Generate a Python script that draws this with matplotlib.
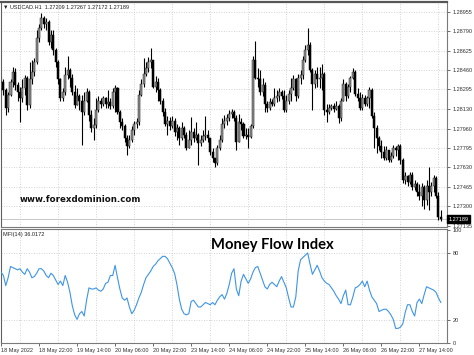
import matplotlib
matplotlib.use("Agg")
import matplotlib.pyplot as plt
import matplotlib.transforms as mtransforms
import numpy as np

# USDCAD H1, 18 May 2022 06:00 .. 27 May 2022 23:00 (one value per hourly bar)
header = "USDCAD.H1  1.27209 1.27267 1.27172 1.27189"
first_open = 1.2830
closes = [
    1.2836, 1.2829, 1.2814, 1.2825, 1.2836, 1.2844, 1.2833, 1.2827, 1.2822, 1.2831,
    1.2839, 1.2816, 1.2838, 1.2844, 1.2853, 1.2873, 1.2882, 1.2890, 1.2885, 1.2887,
    1.2870, 1.2876, 1.2863, 1.2853, 1.2838, 1.2822, 1.2827, 1.2842, 1.2846, 1.2839,
    1.2827, 1.2816, 1.2824, 1.2820, 1.2810, 1.2820, 1.2827, 1.2808, 1.2797, 1.2799,
    1.2812, 1.2820, 1.2817, 1.2822, 1.2817, 1.2819, 1.2815, 1.2827, 1.2831, 1.2810,
    1.2802, 1.2798, 1.2788, 1.2781, 1.2786, 1.2795, 1.2800, 1.2802, 1.2825, 1.2834,
    1.2843, 1.2848, 1.2853, 1.2855, 1.2832, 1.2836, 1.2829, 1.2820, 1.2810, 1.2800,
    1.2803, 1.2798, 1.2803, 1.2793, 1.2797, 1.2788, 1.2797, 1.2791, 1.2780, 1.2786,
    1.2793, 1.2788, 1.2791, 1.2784, 1.2786, 1.2790, 1.2791, 1.2788, 1.2776, 1.2771,
    1.2767, 1.2780, 1.2786, 1.2800, 1.2803, 1.2805, 1.2809, 1.2810, 1.2805, 1.2785,
    1.2802, 1.2800, 1.2790, 1.2791, 1.2789, 1.2798, 1.2855, 1.2839, 1.2838, 1.2827,
    1.2833, 1.2817, 1.2814, 1.2819, 1.2817, 1.2822, 1.2824, 1.2827, 1.2824, 1.2812,
    1.2820, 1.2826, 1.2831, 1.2838, 1.2824, 1.2839, 1.2842, 1.2855, 1.2863, 1.2867,
    1.2846, 1.2834, 1.2843, 1.2838, 1.2839, 1.2843, 1.2812, 1.2810, 1.2814, 1.2815,
    1.2813, 1.2815, 1.2805, 1.2820, 1.2834, 1.2824, 1.2832, 1.2839, 1.2844, 1.2826,
    1.2822, 1.2814, 1.2822, 1.2817, 1.2822, 1.2829, 1.2807, 1.2797, 1.2788, 1.2781,
    1.2776, 1.2771, 1.2778, 1.2769, 1.2773, 1.2780, 1.2778, 1.2781, 1.2769, 1.2752,
    1.2756, 1.2751, 1.2757, 1.2746, 1.2749, 1.2742, 1.2739, 1.2746, 1.2735, 1.2747,
    1.2742, 1.2747, 1.2754, 1.2739, 1.27209, 1.27189,
]
highs = [
    1.2840, 1.2838, 1.2831, 1.2827, 1.2838, 1.2849, 1.2848, 1.2836, 1.2832, 1.2838,
    1.2842, 1.2841, 1.2853, 1.2855, 1.2856, 1.2880, 1.2885, 1.2895, 1.2892, 1.2890,
    1.2889, 1.2880, 1.2880, 1.2865, 1.2855, 1.2839, 1.2831, 1.2849, 1.2858, 1.2848,
    1.2843, 1.2833, 1.2831, 1.2826, 1.2825, 1.2827, 1.2831, 1.2829, 1.2812, 1.2805,
    1.2822, 1.2824, 1.2822, 1.2824, 1.2823, 1.2829, 1.2822, 1.2831, 1.2833, 1.2832,
    1.2812, 1.2805, 1.2800, 1.2791, 1.2791, 1.2798, 1.2803, 1.2805, 1.2829, 1.2838,
    1.2856, 1.2853, 1.2857, 1.2865, 1.2853, 1.2841, 1.2839, 1.2831, 1.2822, 1.2814,
    1.2807, 1.2806, 1.2807, 1.2805, 1.2800, 1.2798, 1.2802, 1.2798, 1.2793, 1.2795,
    1.2806, 1.2797, 1.2802, 1.2792, 1.2791, 1.2795, 1.2807, 1.2795, 1.2788, 1.2780,
    1.2771, 1.2782, 1.2791, 1.2805, 1.2808, 1.2809, 1.2812, 1.2813, 1.2812, 1.2808,
    1.2809, 1.2805, 1.2802, 1.2797, 1.2797, 1.2800, 1.2858, 1.2871, 1.2848, 1.2846,
    1.2839, 1.2836, 1.2820, 1.2822, 1.2821, 1.2831, 1.2829, 1.2831, 1.2829, 1.2829,
    1.2825, 1.2829, 1.2839, 1.2842, 1.2839, 1.2843, 1.2846, 1.2858, 1.2867, 1.2882,
    1.2870, 1.2848, 1.2846, 1.2849, 1.2849, 1.2851, 1.2844, 1.2817, 1.2817, 1.2817,
    1.2818, 1.2820, 1.2817, 1.2822, 1.2838, 1.2836, 1.2834, 1.2841, 1.2848, 1.2846,
    1.2831, 1.2827, 1.2826, 1.2825, 1.2824, 1.2832, 1.2831, 1.2810, 1.2799, 1.2790,
    1.2786, 1.2781, 1.2781, 1.2778, 1.2776, 1.2782, 1.2781, 1.2783, 1.2783, 1.2771,
    1.2759, 1.2757, 1.2759, 1.2759, 1.2752, 1.2751, 1.2749, 1.2750, 1.2748, 1.2752,
    1.2763, 1.2751, 1.2757, 1.2756, 1.2742, 1.27267,
]
lows = [
    1.2827, 1.2825, 1.2808, 1.2810, 1.2824, 1.2832, 1.2829, 1.2820, 1.2802, 1.2819,
    1.2825, 1.2812, 1.2814, 1.2834, 1.2841, 1.2851, 1.2870, 1.2880, 1.2882, 1.2880,
    1.2867, 1.2865, 1.2859, 1.2849, 1.2834, 1.2820, 1.2820, 1.2825, 1.2838, 1.2832,
    1.2825, 1.2814, 1.2816, 1.2812, 1.2782, 1.2808, 1.2819, 1.2803, 1.2793, 1.2786,
    1.2797, 1.2810, 1.2814, 1.2815, 1.2814, 1.2814, 1.2813, 1.2814, 1.2810, 1.2809,
    1.2797, 1.2795, 1.2785, 1.2774, 1.2780, 1.2785, 1.2791, 1.2797, 1.2799, 1.2824,
    1.2832, 1.2841, 1.2844, 1.2848, 1.2831, 1.2827, 1.2820, 1.2817, 1.2807, 1.2798,
    1.2791, 1.2795, 1.2797, 1.2790, 1.2786, 1.2782, 1.2786, 1.2788, 1.2778, 1.2780,
    1.2782, 1.2785, 1.2786, 1.2765, 1.2781, 1.2785, 1.2786, 1.2785, 1.2774, 1.2768,
    1.2763, 1.2765, 1.2778, 1.2785, 1.2797, 1.2799, 1.2803, 1.2805, 1.2803, 1.2778,
    1.2785, 1.2795, 1.2788, 1.2787, 1.2780, 1.2788, 1.2797, 1.2838, 1.2832, 1.2825,
    1.2824, 1.2810, 1.2810, 1.2812, 1.2815, 1.2815, 1.2819, 1.2820, 1.2821, 1.2810,
    1.2810, 1.2817, 1.2820, 1.2829, 1.2820, 1.2822, 1.2834, 1.2838, 1.2853, 1.2859,
    1.2844, 1.2812, 1.2831, 1.2832, 1.2831, 1.2829, 1.2808, 1.2802, 1.2809, 1.2812,
    1.2810, 1.2812, 1.2801, 1.2803, 1.2820, 1.2820, 1.2822, 1.2827, 1.2838, 1.2824,
    1.2820, 1.2812, 1.2812, 1.2815, 1.2815, 1.2814, 1.2805, 1.2780, 1.2775, 1.2778,
    1.2771, 1.2769, 1.2769, 1.2768, 1.2768, 1.2771, 1.2773, 1.2769, 1.2766, 1.2750,
    1.2749, 1.2747, 1.2749, 1.2744, 1.2744, 1.2739, 1.2735, 1.2730, 1.2728, 1.2731,
    1.2727, 1.2739, 1.2742, 1.2737, 1.2718, 1.27172,
]
mfi = [
    63, 60, 51, 58, 68, 67, 66, 65, 66, 63,
    61, 66, 63, 58, 59, 62, 66, 66, 64, 60,
    58, 62, 60, 56, 52, 55, 51, 60, 54, 45,
    33, 25, 21, 26, 28, 24, 38, 49, 48, 48,
    49, 47, 46, 48, 53, 54, 60, 60, 69, 58,
    48, 40, 38, 40, 32, 26, 29, 34, 40, 45,
    52, 58, 61, 64, 68, 70, 73, 75, 77, 77,
    75, 71, 67, 62, 52, 39, 30, 26, 25, 26,
    37, 38, 35, 32, 32, 34, 36, 35, 34, 36,
    34, 38, 41, 43, 39, 44, 52, 62, 66, 48,
    42, 55, 61, 57, 53, 57, 63, 67, 68, 62,
    56, 50, 48, 52, 54, 52, 50, 55, 59, 54,
    49, 40, 32, 32, 41, 64, 74, 76, 78, 80,
    70, 61, 65, 69, 64, 58, 55, 53, 52, 49,
    46, 42, 39, 35, 42, 47, 34, 34, 41, 49,
    50, 52, 55, 50, 55, 47, 41, 38, 35, 28,
    29, 30, 30, 28, 25, 21, 13, 13, 14, 17,
    27, 34, 34, 28, 24, 36, 39, 35, 43, 50,
    49, 48, 47, 45, 40, 36.0172,
]
price_ticks = [1.28955, 1.28790, 1.28625, 1.28460, 1.28295, 1.28130,
               1.27960, 1.27795, 1.27630, 1.27465, 1.27300, 1.27135]
mfi_ticks = [0, 20, 80, 100]
date_labels = ["18 May 2022", "18 May 22:00", "19 May 14:00", "20 May 06:00",
               "20 May 22:00", "23 May 14:00", "24 May 06:00", "24 May 22:00",
               "25 May 14:00", "26 May 06:00", "26 May 22:00", "27 May 14:00"]
mfi_label = "MFI(14) 36.0172"

W, H = 474, 355
fig = plt.figure(figsize=(W / 100, H / 100), dpi=100, facecolor="white")


def fig_rect(x0, y0, x1, y1):
    # pixel box (top-left origin) -> figure fraction rect
    return [x0 / W, 1 - y1 / H, (x1 - x0) / W, (y1 - y0) / H]


ax = fig.add_axes(fig_rect(1, 2, 447, 227))
ax2 = fig.add_axes(fig_rect(1, 229, 447, 343), sharex=ax)

n = len(closes)
x = np.arange(n)
opens = np.array([first_open] + closes[:-1])
closes_a = np.array(closes)
up = closes_a >= opens

grid_kw = dict(color="#c4c4c4", lw=0.6, ls=(0, (1, 2)), zorder=0)
for gx in range(8, n, 16):
    ax.axvline(gx, **grid_kw)
    ax2.axvline(gx, **grid_kw)
for p in price_ticks[:-1]:
    ax.axhline(p, **grid_kw)
for m in (20, 80):
    ax2.axhline(m, **grid_kw)

# bid line
ax.axhline(closes[-1], color="#c8c8c8", lw=0.7, zorder=1)

ax.vlines(x, lows, highs, color="black", lw=0.8, zorder=2)
ax.bar(x[up], closes_a[up] - opens[up], bottom=opens[up], width=0.85,
       color="#8e8e8e", edgecolor="#252525", linewidth=0.35, zorder=3)
ax.bar(x[~up], opens[~up] - closes_a[~up], bottom=closes_a[~up], width=0.85,
       color="black", edgecolor="black", linewidth=0.35, zorder=3)

ax2.plot(x, mfi, color="#3d95e6", lw=0.8, zorder=3)

ax.set_xlim(0.2, 187.6)
ax.set_ylim(1.27123, 1.29040)
ax2.set_ylim(0.3, 101.3)

for a in (ax, ax2):
    a.yaxis.tick_right()
    a.tick_params(axis="y", labelsize=4, length=2, pad=2, colors="#303030",
                  width=0.5)
    for s in a.spines.values():
        s.set_color("#7a7a7a")
        s.set_linewidth(0.8)

ax.spines["top"].set_color("#555555")
ax.spines["top"].set_linewidth(1.6)
ax.spines["left"].set_color("#606060")
ax2.spines["left"].set_color("#606060")
ax.set_yticks(price_ticks)
ax.set_yticklabels([f"{p:.5f}" for p in price_ticks], family="Liberation Sans")
ax.tick_params(axis="x", bottom=False, labelbottom=False)

ax2.set_yticks(mfi_ticks)
ax2.set_yticklabels([str(m) for m in mfi_ticks], family="Liberation Sans")
ax2.set_xticks(list(range(0, n, 16)))
ax2.set_xticklabels(date_labels, ha="left", family="Liberation Sans")
ax2.tick_params(axis="x", labelsize=4, length=2, pad=1.5, colors="#303030",
                width=0.5)

# current price box on the axis
trans = mtransforms.blended_transform_factory(ax.transAxes, ax.transData)
ax.text(1.004, closes[-1], f"{closes[-1]:.5f}", transform=trans, fontsize=4,
        family="Liberation Sans", color="white", va="center", ha="left",
        clip_on=False, zorder=5,
        bbox=dict(boxstyle="square,pad=0.25", fc="black", ec="black"))

ax.text(0.005, 0.978, "\u25bc " + header, transform=ax.transAxes, fontsize=4,
        family=["Liberation Sans", "DejaVu Sans"], color="#202020",
        va="center", ha="left")
ax2.text(0.005, 0.955, mfi_label, transform=ax2.transAxes, fontsize=4,
         family="Liberation Sans", color="#202020", va="center", ha="left")

fig.text(20 / W, 1 - 200 / H, "www.forexdominion.com", fontsize=6.2,
         fontweight="bold", family="DejaVu Sans", color="#111111",
         va="center", ha="left")
fig.text(211 / W, 1 - 249 / H, "Money Flow Index", fontsize=10.6,
         fontweight="bold", family="Lato", color="black",
         va="baseline", ha="left")

fig.savefig("out.png", dpi=100, facecolor="white")
